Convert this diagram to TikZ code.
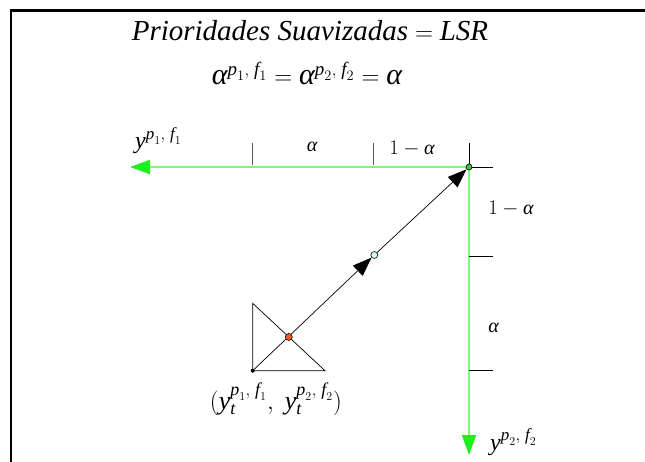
\documentclass[tikz,border=0pt]{standalone}
\usepackage{amsmath}
\usepackage{fontspec}
\setmainfont{Liberation Serif}
\newfontfamily\tms{Liberation Serif}
\usepackage{xcolor}
\usepackage{tikz}
\usetikzlibrary{positioning, arrows.meta}
\DeclareMathSizes{29}{29}{18}{13}
\DeclareMathSizes{30}{30}{19}{14}
\DeclareMathSizes{26}{26}{18}{13}
\DeclareMathSizes{24}{24}{17}{12}
\DeclareMathSizes{20}{20}{14}{10}
\definecolor{axisgreen}{RGB}{125,250,125}
\definecolor{tipgreen}{RGB}{30,240,30}
\definecolor{dotred}{RGB}{250,90,40}
\definecolor{dotcyan}{RGB}{205,250,250}
\definecolor{dotgreen}{RGB}{60,200,60}
\newcommand{\al}{\text{\tms\itshape α}}
\newcommand{\iy}{\text{\tms\itshape y}}
\newcommand{\ip}{\text{\tms\itshape p}}
\newcommand{\iif}{\text{\tms\itshape f}}
\newcommand{\itt}{\text{\tms\itshape t}}

\begin{document}
\begin{tikzpicture}[x=1pt, y=-1pt,
    axis/.style={axisgreen, line width=2pt, -{Triangle[length=20pt, width=14pt, color=tipgreen]}},
    diag/.style={line width=0.7pt, -{Triangle[length=19pt, width=14pt]}},
    lbl/.style={inner sep=0pt, font=\fontsize{20}{24}\selectfont},
    big/.style={lbl, font=\fontsize{29}{33}\selectfont, anchor=base},
    dot/.style={circle, draw, line width=0.6pt, inner sep=0pt, minimum size=7pt}]
    \useasboundingbox (0,0) rectangle (645,462);
    \draw[line width=2.5pt] (11,462) -- (11,10.5) -- (645,10.5);
    \coordinate (O) at (469,167);
    \coordinate (P) at (252.7,370.7);
    \coordinate (T1) at (252.7,303.3);
    \coordinate (T2) at (325,370.7);
    \coordinate (X1) at (130,167);
    \coordinate (X2) at (469,455);
    \draw[axis] (O) -- (X1);
    \draw[axis] (O) -- (X2);
    \draw[line width=0.7pt] (O) -- ++(0,-24) (O) -- ++(24,0);
    \foreach \x in {252.3,373} \draw[line width=0.8pt, black!65] (\x,143) -- (\x,165);
    \foreach \y in {256,370} \draw[line width=0.7pt] (469,\y) -- (493,\y);
    \draw[line width=0.7pt] (T1) -- (P) -- (T2) -- cycle;
    \node[dot, fill=dotcyan] (C) at (374.3,255) {};
    \node[dot, fill=dotgreen, minimum size=6pt] (G) at (O) {};
    \draw[diag] (P) -- (C);
    \draw[diag] (C) -- (G);
    \node[dot, fill=dotred] (R) at (288.8,337) {};
    \node[circle, fill, inner sep=0pt, minimum size=4pt] (Pd) at (P) {};
    \node[big] (title) at (310,40.5) {$\text{\tms\itshape Prioridades Suavizadas}=\text{\tms\itshape LSR}$};
    \node[big, font=\fontsize{30}{34}\selectfont] (eq) at (307,85) {$\al^{\ip_1,\;\iif_1}=\al^{\ip_2,\;\iif_2}=\al$};
    \node[lbl, font=\fontsize{24}{28}\selectfont, anchor=base west] (y1) at (135,149) {$\iy^{\ip_1,\;\iif_1}$};
    \node[lbl, anchor=base] (ha) at (312,152) {$\al$};
    \node[lbl, anchor=base] (hb) at (412,155) {$1-\al$};
    \node[lbl, anchor=base] (vb) at (511,215) {$1-\al$};
    \node[lbl, anchor=base] (va) at (493.5,332) {$\al$};
    \node[lbl, font=\fontsize{24}{28}\selectfont, anchor=base west] (y2) at (490,450) {$\iy^{\ip_2,\;\iif_2}$};
    \node[lbl, font=\fontsize{26}{30}\selectfont, anchor=base] (pt) at (276,409) {$(\iy_{\itt}^{\ip_1,\;\iif_1},\;\iy_{\itt}^{\ip_2,\;\iif_2})$};
\end{tikzpicture}
\end{document}
